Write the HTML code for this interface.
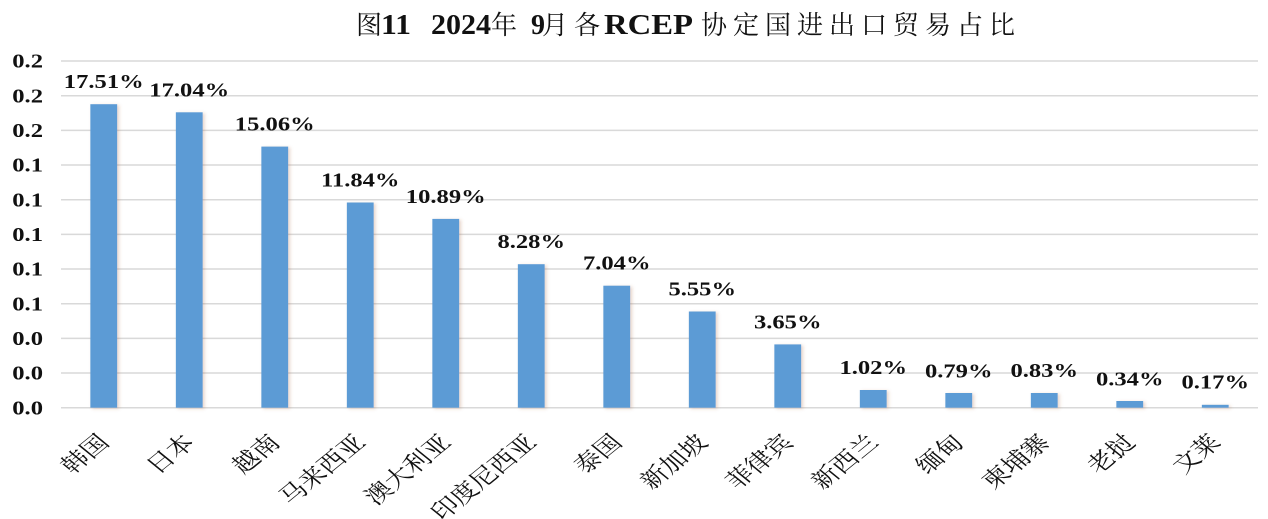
<!DOCTYPE html>
<html>
<head>
<meta charset="utf-8">
<style>
  html,body{margin:0;padding:0;background:#fff;}
  svg{display:block;}
  .num{font-family:"Liberation Serif","Noto Serif CJK SC",serif;font-weight:bold;font-size:20px;fill:#111;}
  .cat{font-family:"Liberation Serif","Noto Serif CJK SC",serif;font-size:22px;fill:#111;}
  .tl{font-family:"Liberation Serif",serif;font-weight:bold;font-size:28px;fill:#111;}
  .tc{font-family:"Liberation Serif","Noto Serif CJK SC",serif;font-weight:normal;font-size:26px;fill:#111;}
</style>
</head>
<body>
<svg width="1268" height="519" viewBox="0 0 1268 519" xmlns="http://www.w3.org/2000/svg">
  <defs>
    <filter id="sh" x="-20%" y="-20%" width="150%" height="150%">
      <feDropShadow dx="2" dy="1" stdDeviation="1.5" flood-color="#a0522d" flood-opacity="0.25"/>
    </filter>
  </defs>
  <rect width="1268" height="519" fill="#fff"/>

  <!-- Title -->
  <text class="tc" x="356" y="34">图</text>
  <text class="tl" x="381" y="34" textLength="30" lengthAdjust="spacingAndGlyphs">11</text>
  <text class="tl" x="431" y="34" textLength="60" lengthAdjust="spacingAndGlyphs">2024</text>
  <text class="tc" x="491" y="34">年</text>
  <text class="tl" x="531" y="34">9</text>
  <text class="tc" x="542" y="34">月</text>
  <text class="tc" x="574" y="34">各</text>
  <text class="tl" x="604" y="34" textLength="89" lengthAdjust="spacingAndGlyphs">RCEP</text>
  <text class="tc" y="34" x="701 733 765 797 829 861 893 925 957 989">协定国进出口贸易占比</text>

  <!-- Gridlines -->
  <g stroke="#d9d9d9" stroke-width="1.5">
    <line x1="61" x2="1258" y1="407.7" y2="407.7"/>
    <line x1="61" x2="1258" y1="373.0" y2="373.0"/>
    <line x1="61" x2="1258" y1="338.4" y2="338.4"/>
    <line x1="61" x2="1258" y1="303.7" y2="303.7"/>
    <line x1="61" x2="1258" y1="269.0" y2="269.0"/>
    <line x1="61" x2="1258" y1="234.4" y2="234.4"/>
    <line x1="61" x2="1258" y1="199.7" y2="199.7"/>
    <line x1="61" x2="1258" y1="165.0" y2="165.0"/>
    <line x1="61" x2="1258" y1="130.4" y2="130.4"/>
    <line x1="61" x2="1258" y1="95.7" y2="95.7"/>
    <line x1="61" x2="1258" y1="61.0" y2="61.0"/>
  </g>

  <!-- Y tick labels -->
  <g class="num" text-anchor="end">
    <text transform="translate(43,414.4) scale(1.23,1)">0.0</text>
    <text transform="translate(43,379.7) scale(1.23,1)">0.0</text>
    <text transform="translate(43,345.1) scale(1.23,1)">0.0</text>
    <text transform="translate(43,310.4) scale(1.23,1)">0.1</text>
    <text transform="translate(43,275.7) scale(1.23,1)">0.1</text>
    <text transform="translate(43,241.1) scale(1.23,1)">0.1</text>
    <text transform="translate(43,206.4) scale(1.23,1)">0.1</text>
    <text transform="translate(43,171.7) scale(1.23,1)">0.1</text>
    <text transform="translate(43,137.1) scale(1.23,1)">0.2</text>
    <text transform="translate(43,102.4) scale(1.23,1)">0.2</text>
    <text transform="translate(43,67.7) scale(1.23,1)">0.2</text>
  </g>

  <!-- Bars -->
  <g fill="#5b9bd5" filter="url(#sh)">
    <rect x="90.35" y="104.2" width="26.8" height="303.5"/>
    <rect x="175.85" y="112.3" width="26.8" height="295.4"/>
    <rect x="261.35" y="146.6" width="26.8" height="261.1"/>
    <rect x="346.85" y="202.5" width="26.8" height="205.2"/>
    <rect x="432.35" y="218.9" width="26.8" height="188.8"/>
    <rect x="517.85" y="264.2" width="26.8" height="143.5"/>
    <rect x="603.35" y="285.7" width="26.8" height="122.0"/>
    <rect x="688.85" y="311.5" width="26.8" height="96.2"/>
    <rect x="774.35" y="344.4" width="26.8" height="63.3"/>
    <rect x="859.85" y="390.0" width="26.8" height="17.7"/>
    <rect x="945.35" y="393.0" width="26.8" height="14.7"/>
    <rect x="1030.85" y="393.0" width="26.8" height="14.7"/>
    <rect x="1116.35" y="401.0" width="26.8" height="6.7"/>
    <rect x="1201.85" y="404.8" width="26.8" height="2.9"/>
  </g>

  <!-- Data labels -->
  <g class="num" text-anchor="middle">
    <text transform="translate(103.75,88.2) scale(1.23,1)">17.51%</text>
    <text transform="translate(189.25,96.3) scale(1.23,1)">17.04%</text>
    <text transform="translate(274.75,130.6) scale(1.23,1)">15.06%</text>
    <text transform="translate(360.25,186.5) scale(1.23,1)">11.84%</text>
    <text transform="translate(445.75,202.9) scale(1.23,1)">10.89%</text>
    <text transform="translate(531.25,248.2) scale(1.23,1)">8.28%</text>
    <text transform="translate(616.75,269.7) scale(1.23,1)">7.04%</text>
    <text transform="translate(702.25,295.5) scale(1.23,1)">5.55%</text>
    <text transform="translate(787.75,328.4) scale(1.23,1)">3.65%</text>
    <text transform="translate(873.25,374.0) scale(1.23,1)">1.02%</text>
    <text transform="translate(958.75,377.5) scale(1.23,1)">0.79%</text>
    <text transform="translate(1044.25,377.0) scale(1.23,1)">0.83%</text>
    <text transform="translate(1129.75,385.5) scale(1.23,1)">0.34%</text>
    <text transform="translate(1215.25,388.5) scale(1.23,1)">0.17%</text>
  </g>

  <!-- Category labels -->
  <g class="cat" text-anchor="end" dominant-baseline="central">
    <text transform="translate(104.75,439) scale(1.23,1) rotate(-45)">韩国</text>
    <text transform="translate(190.25,439) scale(1.23,1) rotate(-45)">日本</text>
    <text transform="translate(275.75,439) scale(1.23,1) rotate(-45)">越南</text>
    <text transform="translate(361.25,439) scale(1.23,1) rotate(-45)">马来西亚</text>
    <text transform="translate(446.75,439) scale(1.23,1) rotate(-45)">澳大利亚</text>
    <text transform="translate(532.25,439) scale(1.23,1) rotate(-45)">印度尼西亚</text>
    <text transform="translate(617.75,439) scale(1.23,1) rotate(-45)">泰国</text>
    <text transform="translate(703.25,439) scale(1.23,1) rotate(-45)">新加坡</text>
    <text transform="translate(788.75,439) scale(1.23,1) rotate(-45)">菲律宾</text>
    <text transform="translate(874.25,439) scale(1.23,1) rotate(-45)">新西兰</text>
    <text transform="translate(959.75,439) scale(1.23,1) rotate(-45)">缅甸</text>
    <text transform="translate(1045.25,439) scale(1.23,1) rotate(-45)">柬埔寨</text>
    <text transform="translate(1130.75,439) scale(1.23,1) rotate(-45)">老挝</text>
    <text transform="translate(1216.25,439) scale(1.23,1) rotate(-45)">文莱</text>
  </g>
</svg>
</body>
</html>
